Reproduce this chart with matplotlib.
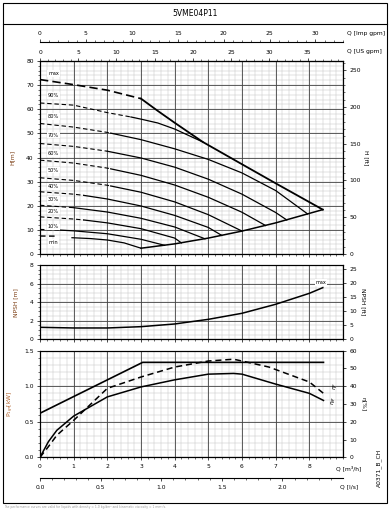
import numpy as np
import matplotlib
matplotlib.use("Agg")
import matplotlib.pyplot as plt
from matplotlib.patches import Rectangle

W, H = 391, 509
M3H_TO_IMP = 3.6662
M3H_TO_US = 4.4029
M_TO_FT = 3.2808

# ---- head curves (Q [m3/h], H [m]), dashed up to q_dash ----
curves = {
    "max": ([0, 1, 2, 3, 3.5, 4, 4.84, 6, 7, 8.4],
            [72.3, 70.2, 67.9, 64.4, 59.3, 54.4, 46.4, 37.2, 29.3, 18.4], 3.0),
    "90%": ([0, 1, 2, 2.7, 3, 3.5, 4, 4.84],
            [62.6, 61.7, 58.6, 56.8, 55.9, 54.3, 51.8, 46.4], 2.7),
    "80%": ([0, 1, 2, 2.1, 3, 4, 5, 6, 7, 7.95],
            [54.1, 52.6, 50.4, 50.1, 47.4, 43.6, 39.2, 33.6, 26.3, 16.6], 2.1),
    "70%": ([0, 1, 2, 3, 4, 5, 6, 7, 7.33],
            [45.8, 44.6, 42.6, 39.8, 36.0, 31.0, 24.8, 17.2, 14.1], 2.0),
    "60%": ([0, 1, 2, 2.1, 3, 4, 5, 6, 6.7],
            [38.9, 37.7, 35.6, 35.3, 32.6, 28.6, 23.5, 17.3, 11.8], 2.1),
    "50%": ([0, 1, 2, 2.1, 3, 4, 5, 6],
            [31.6, 30.5, 28.5, 28.2, 25.6, 21.6, 16.3, 9.5], 2.1),
    "40%": ([0, 1, 1.3, 2, 3, 4, 5, 5.4],
            [25.8, 24.8, 24.3, 22.8, 19.9, 16.0, 11.0, 7.7], 1.3),
    "30%": ([0, 1, 2, 3, 4, 4.9],
            [20.2, 19.2, 17.4, 14.8, 11.2, 6.3], 1.0),
    "20%": ([0, 1, 1.3, 2, 3, 4, 4.2],
            [15.4, 14.5, 14.1, 12.9, 10.5, 6.6, 4.6], 1.3),
    "10%": ([0, 0.6, 1, 2, 3, 3.7],
            [10.2, 9.9, 9.6, 8.4, 6.1, 3.6], 0.6),
}
min_dash_q, min_dash_h = [0, 0.5], [7.45, 7.4]
min_q, min_h = [0.95, 1.5, 2, 2.5, 3], [6.75, 6.4, 5.8, 4.6, 2.4]

bound_q = [3, 4, 5, 6, 7, 8.4]
bound_h = [2.4, 4.2, 6.6, 9.5, 12.9, 18.4]

labels = ["max", "90%", "80%", "70%", "60%", "50%", "40%", "30%", "20%", "10%", "min"]
label_h = [74.8, 65.8, 57.1, 49.3, 41.7, 34.8, 28.1, 22.6, 17.8, 11.2, 4.8]

# ---- NPSH ----
npsh_q = [0, 1, 2, 3, 4, 5, 6, 7, 8, 8.4]
npsh_h = [1.29, 1.22, 1.22, 1.36, 1.65, 2.15, 2.8, 3.77, 4.95, 5.56]

# ---- power / efficiency ----
p1_q = [0, 3.05, 8.42]
p1_kw = [0.62, 1.336, 1.336]
eta_q = [0, 0.25, 0.5, 1, 2, 3, 4, 5, 5.75, 6, 7, 8, 8.42]
eta_kw = [0.0, 0.22, 0.38, 0.58, 0.85, 0.99, 1.09, 1.17, 1.18, 1.17, 1.03, 0.90, 0.80]
etap_q = [0, 0.25, 0.5, 1, 2, 3, 4, 5, 5.75, 6, 6.8, 8, 8.42]
etap_kw = [0.0, 0.15, 0.31, 0.52, 0.97, 1.13, 1.27, 1.355, 1.38, 1.355, 1.27, 1.06, 0.90]


def rect(x0, y0, x1, y1):
    return [x0 / W, 1 - y1 / H, (x1 - x0) / W, (y1 - y0) / H]


plt.rcParams["font.family"] = ["DejaVu Sans"]
fs = 4.3
fig = plt.figure(figsize=(W / 100, H / 100), dpi=100)

# frame + title box
fig.patches.append(Rectangle((3 / W, 1 - 503 / H), 384 / W, 500 / H, transform=fig.transFigure,
                             fill=False, lw=0.8, ec="black"))
fig.add_artist(plt.Line2D([3 / W, 387 / W], [1 - 24 / H, 1 - 24 / H], transform=fig.transFigure,
                          lw=0.8, color="black"))
fig.text(195 / W, 1 - 14 / H, "5VME04P11", ha="center", va="center", fontsize=5.5)


def setup_grid(ax, ymaj, ymin, ylim):
    ax.set_xlim(0, 9)
    ax.set_ylim(*ylim)
    for q in np.arange(0, 9.01, 0.2):
        ax.axvline(q, color="#c4c4c4", lw=0.35, zorder=0)
    for y in np.arange(ylim[0], ylim[1] + 1e-6, ymin):
        ax.axhline(y, color="#c4c4c4", lw=0.35, zorder=0)
    for q in range(1, 9):
        ax.axvline(q, color="#444444", lw=0.6, zorder=0.5)
    for y in np.arange(ylim[0], ylim[1] + 1e-6, ymaj):
        ax.axhline(y, color="#444444", lw=0.6, zorder=0.5)
    ax.set_yticks(np.arange(ylim[0], ylim[1] + 1e-6, ymaj))
    ax.set_yticks(np.arange(ylim[0], ylim[1] + 1e-6, ymin), minor=True)
    ax.set_xticks(range(0, 9))
    ax.set_xticks(np.arange(0, 9.01, 0.2), minor=True)
    ax.tick_params(labelsize=fs, length=2.5, width=0.5, pad=2)
    ax.tick_params(which="minor", length=1.3, width=0.4)
    for s in ax.spines.values():
        s.set_linewidth(0.8)


# ---------------- head panel ----------------
ax = fig.add_axes(rect(40, 61, 343, 254))
setup_grid(ax, 10, 2, (0, 80))
ax.tick_params(labelbottom=False)
ax.set_ylabel("H[m]", fontsize=fs, color="#7a3b10", labelpad=8)

for name, (q, h, qd) in curves.items():
    q = np.array(q)
    h = np.array(h)
    lw = 1.2 if name == "max" else 0.8
    dash = (5, 2.5) if name == "max" else (4, 2.5)
    m = q <= qd + 1e-9
    ax.plot(q[m], h[m], color="black", lw=lw, dashes=dash, zorder=3)
    ax.plot(q[~m | (q == qd)], h[~m | (q == qd)], color="black", lw=lw + 0.1, zorder=3)
ax.plot(min_dash_q, min_dash_h, color="black", lw=1.0, dashes=(4, 2.5), zorder=3)
ax.plot(min_q, min_h, color="black", lw=0.9, zorder=3)
ax.plot(bound_q, bound_h, color="black", lw=1.1, zorder=3)

for lab, y in zip(labels, label_h):
    ax.text(0.4, y, lab, fontsize=3.6, ha="center", va="center", zorder=4,
            bbox=dict(fc="white", ec="none", pad=0.6))

axr = ax.twinx()
axr.set_ylim(0, 80 * M_TO_FT)
axr.set_yticks(range(0, 251, 50))
axr.set_yticks(range(0, 261, 10), minor=True)
axr.tick_params(labelsize=fs, length=2.5, width=0.5, pad=2)
axr.tick_params(which="minor", length=1.3, width=0.4)
axr.set_ylabel("H [ft]", fontsize=fs, rotation=-90, labelpad=6)

sec = ax.secondary_xaxis("top", functions=(lambda x: x * M3H_TO_US, lambda x: x / M3H_TO_US))
sec.set_xticks(range(0, 40, 5))
sec.set_xticks(range(0, 40), minor=True)
sec.tick_params(labelsize=fs, length=2.5, width=0.5, pad=2)
sec.tick_params(which="minor", length=1.3, width=0.4)
fig.text(347 / W, 1 - 52 / H, "Q [US gpm]", fontsize=fs, va="center")

# imp gpm axis
axi = fig.add_axes(rect(40, 42, 343, 42.01))
axi.set_xlim(0, 9 * M3H_TO_IMP)
axi.set_yticks([])
for s in ["left", "right", "bottom"]:
    axi.spines[s].set_visible(False)
axi.spines["top"].set_linewidth(0.8)
axi.xaxis.tick_top()
axi.set_xticks(range(0, 35, 5))
axi.set_xticks(range(0, 34), minor=True)
axi.tick_params(labelsize=fs, length=2.5, width=0.5, pad=2)
axi.tick_params(which="minor", length=1.3, width=0.4)
axi.patch.set_visible(False)
fig.text(347 / W, 1 - 33 / H, "Q [Imp gpm]", fontsize=fs, va="center")

# ---------------- NPSH panel ----------------
ax2 = fig.add_axes(rect(40, 265, 343, 339.3))
setup_grid(ax2, 2, 0.5, (0, 8))
ax2.tick_params(labelbottom=False)
ax2.plot(npsh_q, npsh_h, color="black", lw=1.1, zorder=3)
ax2.text(8.35, 6.1, "max", fontsize=3.6, ha="center", va="center", zorder=4,
         bbox=dict(fc="white", ec="none", pad=0.6))
ax2.set_ylabel("NPSH [m]", fontsize=fs, color="#7a3b10", labelpad=8)
ax2r = ax2.twinx()
ax2r.set_ylim(0, 8 * M_TO_FT)
ax2r.set_yticks(range(0, 26, 5))
ax2r.tick_params(labelsize=fs, length=2.5, width=0.5, pad=2)
ax2r.set_ylabel("NPSH [ft]", fontsize=fs, rotation=-90, labelpad=6)

# ---------------- power / efficiency panel ----------------
ax3 = fig.add_axes(rect(40, 350.7, 343, 457.3))
setup_grid(ax3, 0.5, 0.1, (0, 1.5))
ax3.yaxis.set_major_formatter(plt.FormatStrFormatter("%.1f"))
ax3.plot(p1_q, p1_kw, color="black", lw=1.2, zorder=3)
ax3.plot(eta_q, eta_kw, color="black", lw=1.1, zorder=3)
ax3.plot(etap_q, etap_kw, color="black", lw=1.1, dashes=(4, 2.5), zorder=3)
ax3.set_ylabel("P$_{1gr}$[kW]", fontsize=fs, color="#b0602a", labelpad=6)
ax3.text(8.75, 1.0, r"$\eta_P$", fontsize=4, rotation=90, ha="center", va="center")
ax3.text(8.75, 0.8, r"$\eta_{gr}$", fontsize=4, rotation=90, ha="center", va="center")
ax3r = ax3.twinx()
ax3r.set_ylim(0, 60)
ax3r.set_yticks(range(0, 61, 10))
ax3r.tick_params(labelsize=fs, length=2.5, width=0.5, pad=2)
ax3r.set_ylabel("η[%]", fontsize=fs, rotation=-90, labelpad=6)
fig.text(336 / W, 1 - 468 / H, "Q [m³/h]", fontsize=fs, va="center")

# l/s axis
axl = fig.add_axes(rect(40, 477.7, 343, 477.71))
axl.set_xlim(0, 9 / 3.6)
axl.set_yticks([])
for s in ["left", "right", "top"]:
    axl.spines[s].set_visible(False)
axl.spines["bottom"].set_linewidth(0.8)
axl.set_xticks([0, 0.5, 1.0, 1.5, 2.0])
axl.set_xticks(np.arange(0, 2.5, 0.1), minor=True)
axl.xaxis.set_major_formatter(plt.FormatStrFormatter("%.1f"))
axl.tick_params(labelsize=fs, length=2.5, width=0.5, pad=3)
axl.tick_params(which="minor", length=1.3, width=0.4)
axl.patch.set_visible(False)
fig.text(340 / W, 1 - 487 / H, "Q [l/s]", fontsize=fs, va="center")

fig.text(379 / W, 1 - 468 / H, "A0371_B_CH", fontsize=fs, rotation=90, ha="center", va="center")
fig.text(4 / W, 1 - 507 / H,
         "The performance curves are valid for liquids with density = 1.0 kg/dm³ and kinematic viscosity = 1 mm²/s.",
         fontsize=2.2, color="#999999", va="center")

fig.savefig("out.png", dpi=100)
